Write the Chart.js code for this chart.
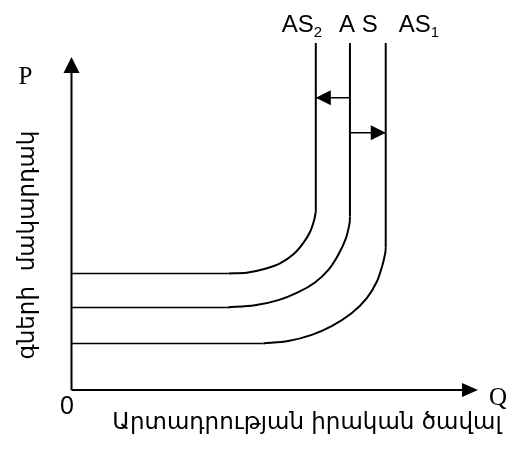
<!DOCTYPE html>
<html lang="hy">
<head>
    <meta charset="UTF-8">
    <title>AS shift</title>
    <script src="https://cdn.jsdelivr.net/npm/chart.js"></script>
    <style>
        html, body { margin: 0; padding: 0; background: #fff; }
        #wrap { width: 506px; height: 449px; position: relative; }
    </style>
</head>
<body>
<div id="wrap"><canvas id="chart"></canvas></div>
<script>
// curve names, as written above each vertical part
const curveNames = ['AS2', 'A S', 'AS1'];

// points of each curve (Q, P): flat part, bend, vertical part
const curveAS2 = [[0, 33.6], [38.6, 33.6], [43.1, 33.8], [47.2, 34.8], [51.3, 36.5], [54.6, 39.1], [57.0, 42.3], [58.7, 45.6], [59.7, 49.0], [60.1, 51.4], [60.1, 100]];
const curveAS  = [[0, 23.8], [38.4, 23.8], [45.1, 24.4], [50.9, 25.9], [55.8, 28.2], [59.9, 31.0], [63.2, 34.6], [65.6, 38.9], [67.5, 43.7], [68.4, 48.0], [68.5, 50.0], [68.5, 100]];
const curveAS1 = [[0, 13.4], [47.2, 13.4], [53.3, 14.1], [59.1, 15.9], [64.0, 18.4], [68.9, 22.1], [72.6, 26.4], [75.1, 31.2], [76.5, 36.0], [77.2, 39.6], [77.3, 41.0], [77.3, 100]];
const curves = [curveAS2, curveAS, curveAS1];

// shift arrows: from the A S line to AS2 (left) and AS1 (right)
const shiftFromQ = 68.5;
const shiftToQ = [60.1, 77.3];
const shiftP = [84.2, 74.1];

// axis ends
const axisTopP = 96;
const axisEndQ = 100;

const SANS = '"Liberation Sans", Arial, sans-serif';
const SERIF = '"Liberation Serif", "Times New Roman", serif';

const toXY = p => ({ x: p[0], y: p[1] });

const datasets = [];
curves.forEach(pts => {
    const n = pts.length;
    datasets.push({ data: pts.slice(0, 2).map(toXY), borderWidth: 1.5, tension: 0 });
    datasets.push({ data: pts.slice(1, n - 1).map(toXY), borderWidth: 2, tension: 0.3 });
    datasets.push({ data: pts.slice(n - 2).map(toXY), borderWidth: 2, tension: 0 });
});
shiftToQ.forEach((q, i) => {
    datasets.push({ data: [{ x: shiftFromQ, y: shiftP[i] }, { x: q, y: shiftP[i] }], borderWidth: 1.5, tension: 0 });
});
datasets.forEach(d => {
    d.borderColor = '#000';
    d.pointRadius = 0;
    d.showLine = true;
    d.fill = false;
    d.clip = 4;
});

function triangle(ctx, tipX, tipY, dir, len, half) {
    ctx.beginPath();
    if (dir === 'up') {
        ctx.moveTo(tipX, tipY);
        ctx.lineTo(tipX - half, tipY + len);
        ctx.lineTo(tipX + half, tipY + len);
    } else if (dir === 'right') {
        ctx.moveTo(tipX, tipY);
        ctx.lineTo(tipX - len, tipY - half);
        ctx.lineTo(tipX - len, tipY + half);
    } else {
        ctx.moveTo(tipX, tipY);
        ctx.lineTo(tipX + len, tipY - half);
        ctx.lineTo(tipX + len, tipY + half);
    }
    ctx.closePath();
    ctx.fill();
}

const diagramPlugin = {
    id: 'diagram',
    afterDatasetsDraw(chart) {
        const ctx = chart.ctx;
        const xs = chart.scales.x, ys = chart.scales.y;
        const ox = xs.getPixelForValue(0), oy = ys.getPixelForValue(0);
        ctx.save();
        ctx.strokeStyle = '#000';
        ctx.fillStyle = '#000';
        ctx.lineWidth = 2;

        // axes
        const topY = ys.getPixelForValue(axisTopP);
        const endX = xs.getPixelForValue(axisEndQ);
        ctx.beginPath();
        ctx.moveTo(ox, oy);
        ctx.lineTo(ox, topY + 14);
        ctx.moveTo(ox, oy);
        ctx.lineTo(endX - 14, oy);
        ctx.stroke();
        triangle(ctx, ox, topY, 'up', 16, 8);
        triangle(ctx, endX, oy, 'right', 16, 7);

        // shift arrow heads
        shiftToQ.forEach((q, i) => {
            const px = xs.getPixelForValue(q), py = ys.getPixelForValue(shiftP[i]);
            triangle(ctx, px, py, q < shiftFromQ ? 'left' : 'right', 15, 7.5);
        });

        // curve names
        const lineX = curves.map(c => xs.getPixelForValue(c[c.length - 1][0]));
        const offsets = [-34, -11, 13];
        curveNames.forEach((name, i) => {
            const main = name.replace(/\d$/, '');
            const sub = name.slice(main.length);
            const x = lineX[i] + offsets[i];
            ctx.font = '24px ' + SANS;
            ctx.textAlign = 'left';
            ctx.textBaseline = 'alphabetic';
            ctx.fillText(main, x, 32);
            if (sub) {
                const w = ctx.measureText(main).width;
                ctx.font = '15px ' + SANS;
                ctx.fillText(sub, x + w, 37);
            }
        });

        // axis letters
        ctx.font = '25px ' + SERIF;
        ctx.textAlign = 'center';
        ctx.textBaseline = 'alphabetic';
        ctx.fillText('P', 25.5, 84);
        ctx.textAlign = 'left';
        ctx.fillText('Q', 489, 405);
        ctx.font = '25px ' + SANS;
        ctx.textAlign = 'center';
        ctx.fillText('0', 67, 414);

        // titles
        ctx.font = '23px "DejaVu Sans"';
        ctx.textAlign = 'center';
        ctx.fillText('Արտադրության իրական ծավալ', 307, 429);
        ctx.save();
        ctx.translate(34, 245);
        ctx.rotate(-Math.PI / 2);
        ctx.fillText('գների  մակարդակ', 0, 0);
        ctx.restore();

        ctx.restore();
    }
};

new Chart(document.getElementById('chart'), {
    type: 'scatter',
    data: { datasets: datasets },
    options: {
        responsive: true,
        maintainAspectRatio: false,
        animation: false,
        layout: { padding: { left: 71.5, right: 28, top: 43, bottom: 59 } },
        scales: {
            x: { type: 'linear', min: 0, max: 100, display: false },
            y: { type: 'linear', min: 0, max: 100, display: false }
        },
        plugins: {
            legend: { display: false },
            tooltip: { enabled: false }
        }
    },
    plugins: [diagramPlugin]
});
</script>
</body>
</html>
